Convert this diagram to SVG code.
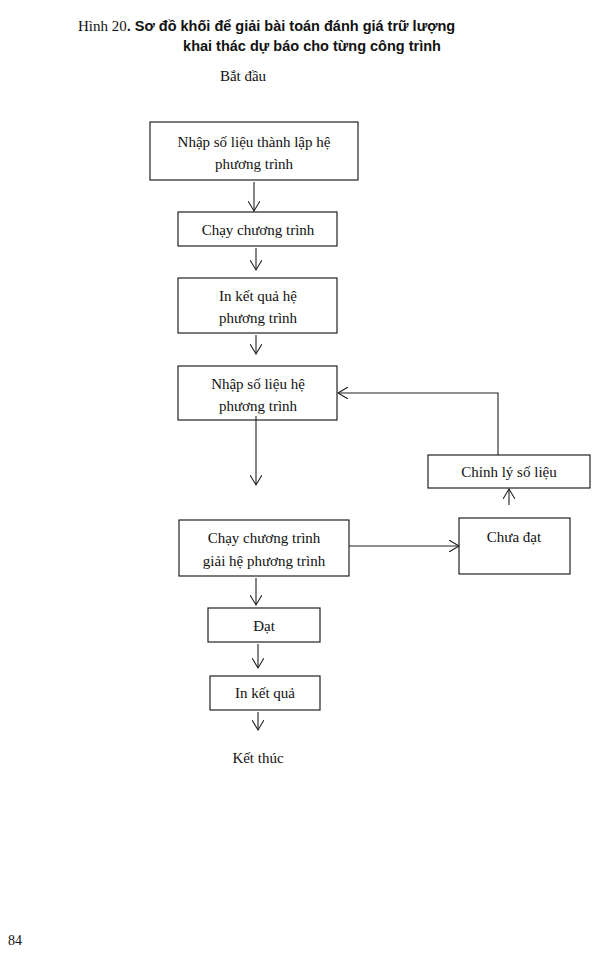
<svg xmlns="http://www.w3.org/2000/svg" width="603" height="959" viewBox="0 0 603 959">
<style>
.b{fill:none;stroke:#222;stroke-width:1.2}
.t{font-family:"Liberation Serif",serif;font-size:15px;fill:#111;text-anchor:middle}
.h{font-family:"Liberation Sans",sans-serif;font-size:14.5px;font-weight:bold;fill:#111}
.c{fill:none;stroke:#222;stroke-width:1.1}
</style>
<defs><marker id="a" markerWidth="12" markerHeight="12" refX="10" refY="6" orient="auto" markerUnits="userSpaceOnUse"><path d="M0,0 L10,6 L0,12" fill="none" stroke="#222" stroke-width="1.1"/></marker></defs>
<rect width="603" height="959" fill="#fff"/>
<text x="78" y="31" style="font-family:'Liberation Serif',serif;font-size:15px;fill:#111">Hình 20<tspan class="h">. Sơ đồ khối để giải bài toán đánh giá trữ lượng</tspan></text>
<text x="312" y="51" class="h" text-anchor="middle">khai thác dự báo cho từng công trình</text>
<text x="243" y="81" class="t">Bắt đầu</text>
<g id="n1"><rect class="b" x="150" y="122" width="208" height="58"/><text class="t" x="254" y="147">Nhập số liệu thành lập hệ</text><text class="t" x="254" y="169">phương trình</text></g>
<g id="n2"><rect class="b" x="178" y="212" width="159" height="34"/><text class="t" x="258" y="235">Chạy chương trình</text></g>
<g id="n3"><rect class="b" x="178" y="278" width="159" height="55"/><text class="t" x="258" y="301">In kết quả hệ</text><text class="t" x="258" y="323">phương trình</text></g>
<g id="n4"><rect class="b" x="178" y="366" width="159" height="54"/><text class="t" x="258" y="389">Nhập số liệu hệ</text><text class="t" x="258" y="411">phương trình</text></g>
<g id="n5"><rect class="b" x="428" y="455" width="162" height="33"/><text class="t" x="509" y="477">Chỉnh lý số liệu</text></g>
<g id="n6"><rect class="b" x="459" y="518" width="111" height="56"/><text class="t" x="514" y="542">Chưa đạt</text></g>
<g id="n7"><rect class="b" x="179" y="520" width="170" height="56"/><text class="t" x="264" y="543">Chạy chương trình</text><text class="t" x="264" y="566">giải hệ phương trình</text></g>
<g id="n8"><rect class="b" x="208" y="608" width="112" height="34"/><text class="t" x="264" y="631">Đạt</text></g>
<g id="n9"><rect class="b" x="210" y="676" width="110" height="34"/><text class="t" x="265" y="698">In kết quả</text></g>
<text x="258" y="763" class="t">Kết thúc</text>
<text x="8" y="945" style="font-family:'Liberation Serif',serif;font-size:14px;fill:#111">84</text>
<g id="connectors">
<path class="c" d="M254,182 V211" marker-end="url(#a)"/>
<path class="c" d="M256,248 V270" marker-end="url(#a)"/>
<path class="c" d="M256,335 V354" marker-end="url(#a)"/>
<path class="c" d="M256,416 V485" marker-end="url(#a)"/>
<path class="c" d="M509,505 V489" marker-end="url(#a)"/>
<path class="c" d="M349,546 H459" marker-end="url(#a)"/>
<path class="c" d="M498,455 V393 H338" marker-end="url(#a)"/>
<path class="c" d="M256,578 V605" marker-end="url(#a)"/>
<path class="c" d="M258,644 V668" marker-end="url(#a)"/>
<path class="c" d="M258,712 V730" marker-end="url(#a)"/>
</g>
</svg>
